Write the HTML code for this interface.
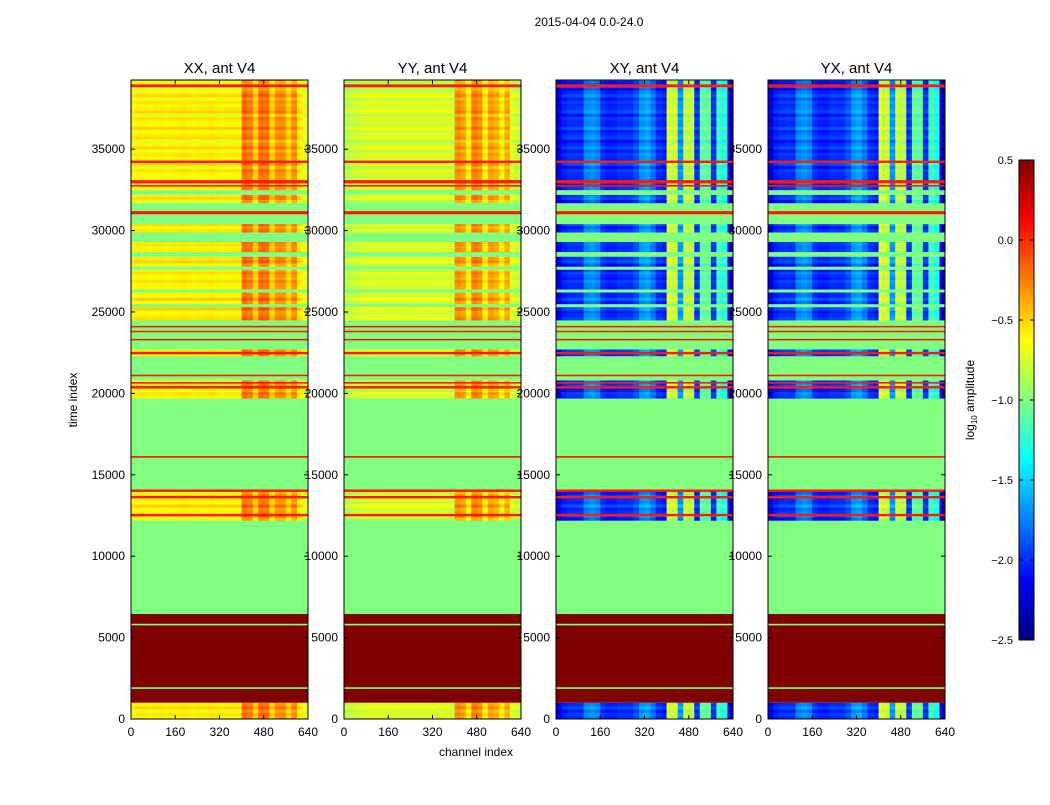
<!DOCTYPE html>
<html><head><meta charset="utf-8"><style>
body{margin:0;background:#fff;font-family:"Liberation Sans",sans-serif}
svg text{font-family:"Liberation Sans",sans-serif;fill:#000}
</style></head><body>
<svg id="fig" width="1050" height="800" xmlns="http://www.w3.org/2000/svg">
<rect width="1050" height="800" fill="#fff"/>
<text x="589" y="26" font-size="12" text-anchor="middle">2015-04-04 0.0-24.0</text>
</svg>
<script>
const panelNames=["XX, ant V4","YY, ant V4","XY, ant V4","YX, ant V4"];
const panelX=[131,344,556,768];
const yTicks=[0,5000,10000,15000,20000,25000,30000,35000];
const xTicks=[0,160,320,480,640];
const cbTicks=[0.5,0.0,-0.5,-1.0,-1.5,-2.0,-2.5];
// channel profiles (32 bins x 20 channels), log10 amplitude
const profXX=[-0.62,-0.6,-0.6,-0.62,-0.6,-0.6,-0.62,-0.6,-0.6,-0.58,-0.6,-0.62,-0.6,-0.6,-0.58,-0.6,-0.62,-0.6,-0.6,-0.6,-0.2,-0.25,-0.5,-0.2,-0.22,-0.5,-0.3,-0.3,-0.5,-0.3,-0.6,-0.7];
const profYY=[-0.85,-0.8,-0.78,-0.76,-0.75,-0.75,-0.75,-0.75,-0.75,-0.75,-0.75,-0.75,-0.75,-0.75,-0.75,-0.75,-0.75,-0.75,-0.75,-0.78,-0.3,-0.35,-0.6,-0.25,-0.3,-0.6,-0.35,-0.4,-0.6,-0.4,-0.75,-0.8];
const profXY=[-2.2,-2.05,-2.0,-2.0,-2.0,-1.75,-1.7,-1.75,-2.0,-2.05,-2.05,-2.0,-2.0,-2.0,-1.9,-1.7,-1.65,-1.8,-2.0,-2.05,-0.75,-0.8,-1.7,-0.8,-0.85,-2.0,-1.1,-1.1,-2.0,-1.2,-1.3,-2.3];
const profYX=[-2.2,-2.05,-2.0,-2.0,-2.0,-1.75,-1.7,-1.75,-2.0,-2.05,-2.05,-2.0,-2.0,-2.0,-1.9,-1.7,-1.65,-1.8,-2.0,-2.05,-0.75,-0.8,-1.7,-0.8,-0.85,-2.0,-1.1,-1.1,-2.0,-1.2,-1.3,-2.3];
const profiles=[profXX,profYY,profXY,profYX];
const rowOffsets=[0.0,0.05,-0.05,0.1,0.0,-0.1,0.08,0.02,-0.04,0.12,-0.02,0.0,0.06,-0.08,0.1,0.03];
// time bands [start,end,kind]: d=data, f=flagged, r=red line, m=saturated
const bands=[[0,1000,'d'],[1000,6450,'m'],[1850,1950,'f'],[5750,5850,'f'],[6450,12200,'f'],[12200,14100,'d'],[12450,12600,'r'],[13550,13700,'r'],[13950,14100,'r'],[14100,19700,'f'],[16050,16150,'r'],[19700,20800,'d'],[20300,20450,'r'],[20600,20700,'r'],[20800,22300,'f'],[21100,21150,'r'],[22300,22700,'d'],[22400,22550,'r'],[22700,24500,'f'],[23300,23350,'r'],[23800,23850,'r'],[24100,24150,'r'],[24500,25300,'d'],[25300,25500,'f'],[25500,26200,'d'],[26200,26400,'f'],[26400,27100,'d'],[27100,27600,'d'],[27600,27800,'f'],[27800,28400,'d'],[28400,28700,'f'],[28700,29300,'d'],[29300,29900,'f'],[29900,30400,'d'],[30400,31000,'f'],[31000,31200,'r'],[31200,31700,'f'],[31700,32200,'d'],[32200,32500,'f'],[32500,33200,'d'],[32700,32800,'r'],[32900,33100,'r'],[33200,38800,'d'],[34150,34300,'r'],[38800,39000,'r'],[39000,39250,'d']];
const TMAX=39250, Y0=719, Y1=80, PW=177, VMIN=-2.5, VMAX=0.5;
function yS(t){return Y0-(t/TMAX)*(Y0-Y1);}
function xS(p,ch){return panelX[p]+ch/640*PW;}
function jet(v){let f=(v-VMIN)/(VMAX-VMIN);f=Math.max(0,Math.min(1,f));
 const c=x=>Math.round(255*Math.max(0,Math.min(1,1.5-Math.abs(4*f-x))));
 return `rgb(${c(3)},${c(2)},${c(1)})`;}
const NS="http://www.w3.org/2000/svg", svg=document.getElementById('fig');
function mk(tag,attrs,parent){const e=document.createElementNS(NS,tag);for(const k in attrs)e.setAttribute(k,attrs[k]);(parent||svg).appendChild(e);return e;}
panelNames.forEach((nm,p)=>{
 const g=mk('g',{});
 
 
 bands.forEach(([t0,t1,k],bi)=>{
  const ya=yS(t1), yb=yS(t0);
  let h=Math.max(yb-ya,1.6);
  if(k==='d'){
   for(let t=t0,ri=bi;t<t1;t+=200,ri++){
    const te=Math.min(t1,t+200), ry=yS(te), rh=yS(t)-ry;
    const off=rowOffsets[ri%rowOffsets.length];
    profiles[p].forEach((v,ci)=>{
     const r=mk('rect',{x:xS(p,ci*20),y:ry,width:PW/32+0.3,height:rh+0.3,fill:jet(v+off)},g);
     
     
    });
   }
  } else {
   const val=k==='f'?-1.0:(k==='m'?0.5:0.05);
   const r=mk('rect',{x:panelX[p],y:ya,width:PW,height:h,fill:jet(val)},g);
   
   
  }
 });
 const fr=mk('rect',{x:panelX[p],y:Y1,width:PW,height:Y0-Y1,fill:'none',stroke:'#000','stroke-width':1},g);
 
 
 const tt=mk('text',{x:panelX[p]+PW/2,y:73,'font-size':15,'text-anchor':'middle'},g);tt.textContent=nm;
 
 
 yTicks.forEach(t=>{const y=yS(t);
  mk('line',{x1:panelX[p],x2:panelX[p]+4,y1:y,y2:y,stroke:'#000'},g);
  mk('line',{x1:panelX[p]+PW-4,x2:panelX[p]+PW,y1:y,y2:y,stroke:'#000'},g);
  const l=mk('text',{x:panelX[p]-6,y:y+4,'font-size':12,'text-anchor':'end'},g);l.textContent=t;
  
  });
 xTicks.forEach(c=>{const x=xS(p,c);
  mk('line',{x1:x,x2:x,y1:Y0,y2:Y0-4,stroke:'#000'},g);
  mk('line',{x1:x,x2:x,y1:Y1,y2:Y1+4,stroke:'#000'},g);
  const l=mk('text',{x:x,y:736,'font-size':12,'text-anchor':'middle'},g);l.textContent=c;
  
  });
});
const yl=mk('text',{x:77,y:400,'font-size':12,'text-anchor':'middle',transform:'rotate(-90 77 400)'});yl.textContent='time index';


const xl=mk('text',{x:476,y:756,'font-size':12,'text-anchor':'middle'});xl.textContent='channel index';


// colorbar
const CB0=160,CB1=640,CBX=1019,CBW=15;
function cbY(v){return CB1-(v-VMIN)/(VMAX-VMIN)*(CB1-CB0);}
const cbg=mk('g',{});


for(let i=0;i<120;i++){const v=VMIN+(i+0.5)*(VMAX-VMIN)/120;
 mk('rect',{x:CBX,y:cbY(VMIN+(i+1)*(VMAX-VMIN)/120),width:CBW,height:(CB1-CB0)/120+0.5,fill:jet(v)},cbg);}
mk('rect',{x:CBX,y:CB0,width:CBW,height:CB1-CB0,fill:'none',stroke:'#000'},cbg);
cbTicks.forEach(v=>{const y=cbY(v);
 mk('line',{x1:CBX,x2:CBX+4,y1:y,y2:y,stroke:'#000'},cbg);
 mk('line',{x1:CBX+CBW-4,x2:CBX+CBW,y1:y,y2:y,stroke:'#000'},cbg);
 const l=mk('text',{x:CBX-6,y:y+4,'font-size':11,'text-anchor':'end'},cbg);l.textContent=v.toFixed(1).replace('-','\u2212');
 
 });
const cl=mk('text',{x:974,y:400,'font-size':12,'text-anchor':'middle',transform:'rotate(-90 974 400)'});
cl.innerHTML='log<tspan font-size="8" dy="3">10</tspan><tspan dy="-3"> amplitude</tspan>';


</script>
</body></html>
